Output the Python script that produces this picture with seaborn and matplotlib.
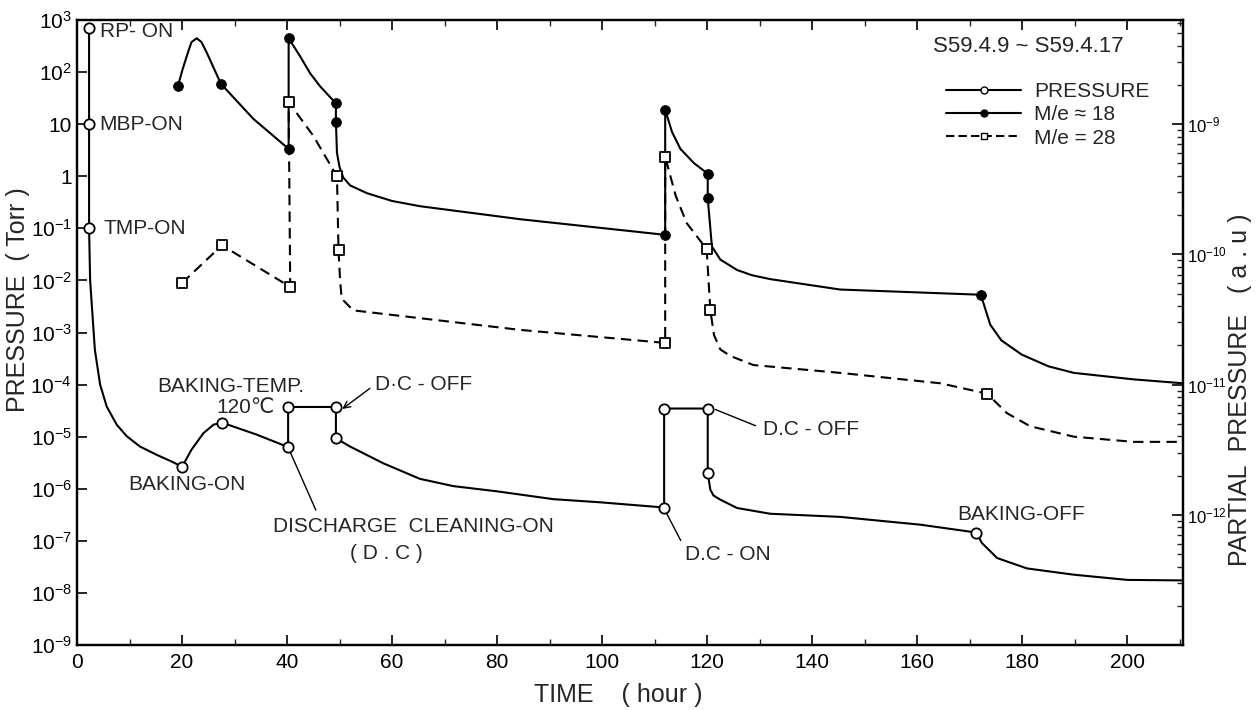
import numpy as np
import pandas as pd
import matplotlib
matplotlib.use("Agg")
import matplotlib.pyplot as plt
from matplotlib.lines import Line2D
from matplotlib import ticker
import seaborn as sns

# ---- total pressure (Torr), left axis ----
p_time = [2.3, 2.3, 2.3, 2.5, 3.4, 4.4, 5.65, 7.56, 9.46, 12.0, 15.2, 18.3, 20.0,
          21.8, 24.1, 26.0, 27.6, 34.2, 40.2, 40.2, 49.3, 49.3, 52.0, 58.3, 65.3,
          71.7, 80.0, 90.7, 99.6, 111.8, 111.8, 120.1, 120.1, 120.6, 121.2, 122.5, 125.7,
          132.0, 145.3, 160.6, 171.2, 172.3, 175.2, 180.9, 189.8, 200.0, 210.6]
p_log = [2.85, 1.0, -1.0, -2.0, -3.33, -4.0, -4.42, -4.77, -4.99, -5.19, -5.35, -5.49, -5.58,
         -5.25, -4.93, -4.77, -4.73, -4.96, -5.2, -4.43, -4.43, -5.03, -5.19, -5.51, -5.81,
         -5.95, -6.05, -6.2, -6.26, -6.36, -4.46, -4.46, -5.70, -6.02, -6.13, -6.21, -6.37,
         -6.48, -6.54, -6.69, -6.84, -7.04, -7.33, -7.53, -7.65, -7.75, -7.76]
p_mark = [1, 1, 1, 0, 0, 0, 0, 0, 0, 0, 0, 0, 1,
          0, 0, 0, 1, 0, 1, 1, 1, 1, 0, 0, 0,
          0, 0, 0, 0, 1, 1, 1, 1, 0, 0, 0, 0,
          0, 0, 0, 1, 0, 0, 0, 0, 0, 0]

# ---- M/e = 18 partial pressure (a.u), right axis ----
m18_time = [19.2, 20.1, 21.2, 21.8, 22.8, 23.7, 24.7, 27.4, 33.6, 40.3, 40.3, 42.5, 44.4, 46.3,
            49.3, 49.3, 49.5, 50.0, 50.7, 52.0, 55.2, 60.0, 65.3, 84.4, 112.0, 112.0,
            113.3, 114.9, 117.5, 120.1, 120.1, 120.9, 122.5, 125.7, 128.5, 132.0, 145.3,
            172.1, 173.9, 176.0, 179.9, 185.0, 189.8, 201.2, 210.6]
m18_log = [-8.71, -8.58, -8.44, -8.37, -8.34, -8.37, -8.45, -8.69, -8.96, -9.19, -8.34, -8.48,
           -8.61, -8.71, -8.84, -8.98, -9.22, -9.33, -9.41, -9.47, -9.53, -9.59, -9.63, -9.73,
           -9.85, -8.89, -9.06, -9.19, -9.30, -9.38, -9.57, -9.94, -10.04, -10.12, -10.16,
           -10.19, -10.27, -10.31, -10.54, -10.66, -10.77, -10.86, -10.91, -10.96, -10.99]
m18_mark = [1, 0, 0, 0, 0, 0, 0, 1, 0, 1, 1, 0, 0, 0,
            1, 1, 0, 0, 0, 0, 0, 0, 0, 0, 1, 1,
            0, 0, 0, 1, 1, 0, 0, 0, 0, 0, 0,
            1, 0, 0, 0, 0, 0, 0, 0]

# ---- M/e = 28 partial pressure (a.u), right axis ----
m28_time = [20.0, 27.6, 40.6, 40.3, 45.0, 49.5, 49.8, 50.1, 50.4, 52.6, 65.3, 84.4, 112.0,
            112.0, 114.0, 116.1, 119.9, 120.6, 121.3, 122.5, 124.4, 128.8, 145.3, 164.4,
            173.3, 177.1, 181.5, 189.8, 201.2, 210.6]
m28_log = [-10.22, -9.93, -10.25, -8.83, -9.09, -9.40, -9.97, -10.2, -10.34, -10.43, -10.49,
           -10.58, -10.68, -9.25, -9.55, -9.76, -9.96, -10.43, -10.62, -10.73, -10.78, -10.85,
           -10.91, -10.99, -11.07, -11.22, -11.32, -11.40, -11.44, -11.44]
m28_mark = [1, 1, 1, 1, 0, 1, 1, 0, 0, 0, 0, 0, 1,
            1, 0, 0, 1, 1, 0, 0, 0, 0, 0, 0,
            1, 0, 0, 0, 0, 0]

left_ticks = [1e-9, 1e-8, 1e-7, 1e-6, 1e-5, 1e-4, 1e-3, 1e-2, 1e-1, 1, 10, 1e2, 1e3]
left_labels = [r"$10^{-9}$", r"$10^{-8}$", r"$10^{-7}$", r"$10^{-6}$", r"$10^{-5}$",
               r"$10^{-4}$", r"$10^{-3}$", r"$10^{-2}$", r"$10^{-1}$", "1", "10",
               r"$10^{2}$", r"$10^{3}$"]
right_ticks = [1e-12, 1e-11, 1e-10, 1e-9]
right_labels = [r"$10^{-12}$", r"$10^{-11}$", r"$10^{-10}$", r"$10^{-9}$"]

sns.set_theme(style="ticks")
plt.rcParams["font.family"] = ["Liberation Sans", "DejaVu Sans"]
plt.rcParams["mathtext.fontset"] = "custom"
plt.rcParams["mathtext.rm"] = "Liberation Sans"
plt.rcParams["mathtext.it"] = "Liberation Sans"
plt.rcParams["mathtext.default"] = "regular"

def frame(t, lg, mk):
    df = pd.DataFrame({"t": t, "v": np.power(10.0, lg), "m": mk})
    return df, df[df["m"] == 1]

p_df, p_pts = frame(p_time, p_log, p_mark)
a_df, a_pts = frame(m18_time, m18_log, m18_mark)
b_df, b_pts = frame(m28_time, m28_log, m28_mark)

fig = plt.figure(figsize=(12.57, 7.10), dpi=100)
ax = fig.add_axes([77 / 1257, 65 / 710, 1106 / 1257, 625 / 710])
ax.set_yscale("log")
ax2 = ax.twinx()
ax2.set_yscale("log")

lw = 1.5
sns.lineplot(data=p_df, x="t", y="v", sort=False, estimator=None, color="black",
             lw=lw, ax=ax)
sns.scatterplot(data=p_pts, x="t", y="v", marker="o", s=55, facecolor="white",
                edgecolor="black", linewidth=1.3, zorder=5, ax=ax)

sns.lineplot(data=a_df, x="t", y="v", sort=False, estimator=None, color="black",
             lw=lw, ax=ax2)
sns.scatterplot(data=a_pts, x="t", y="v", marker="o", s=50, color="black",
                edgecolor="black", zorder=5, ax=ax2)

sns.lineplot(data=b_df, x="t", y="v", sort=False, estimator=None, color="black",
             lw=lw, ls=(0, (5, 3)), ax=ax2)
sns.scatterplot(data=b_pts, x="t", y="v", marker="s", s=60, facecolor="white",
                edgecolor="black", linewidth=1.3, zorder=5, ax=ax2)

ax.set_xlim(0, 210.6)
ax.set_ylim(1e-9, 1e3)
ax2.set_ylim(1e-13, 10 ** (-13 + 12 / 2.5))

ax.yaxis.set_major_locator(ticker.FixedLocator(left_ticks))
ax.yaxis.set_major_formatter(ticker.FixedFormatter(left_labels))
ax.yaxis.set_minor_locator(ticker.NullLocator())
ax.xaxis.set_major_locator(ticker.MultipleLocator(20))
ax.xaxis.set_minor_locator(ticker.MultipleLocator(10))
ax2.yaxis.set_major_locator(ticker.FixedLocator(right_ticks))
ax2.yaxis.set_major_formatter(ticker.FixedFormatter(right_labels))
ax2.yaxis.set_minor_locator(ticker.LogLocator(base=10, subs=np.arange(2, 10), numticks=20))
ax2.yaxis.set_minor_formatter(ticker.NullFormatter())

ax.tick_params(axis="both", which="major", direction="in", length=7, width=1.2,
               labelsize=15, colors="black", top=True)
ax.tick_params(axis="x", which="minor", direction="in", length=4, width=1.0, top=True)
ax.tick_params(axis="x", which="major", pad=6)
ax2.tick_params(axis="y", which="major", direction="in", length=8, width=1.2,
                labelsize=12, colors="black", pad=3)
ax2.tick_params(axis="y", which="minor", direction="in", length=4, width=1.0)
for a in (ax, ax2):
    for s in a.spines.values():
        s.set_visible(True)
        s.set_linewidth(1.6)
        s.set_color("black")

ax.set_xlabel("")
ax.set_ylabel("")
ax2.set_ylabel("")
fig.text(618 / 1257, 1 - 695 / 710, "TIME    ( hour )", ha="center", va="center", fontsize=18)
fig.text(18 / 1257, 1 - 300 / 710, "PRESSURE  ( Torr )", ha="center", va="center",
         rotation=90, fontsize=18)
fig.text(1240 / 1257, 1 - 390 / 710, "PARTIAL  PRESSURE   ( a . u )", ha="center",
         va="center", rotation=90, fontsize=18)

fs = 15
def L(v):
    return 10 ** v

ax.text(4.4, L(2.77), "RP- ON", fontsize=fs, va="center")
ax.text(4.2, L(1.0), "MBP-ON", fontsize=fs, va="center")
ax.text(5.0, L(-1.0), "TMP-ON", fontsize=fs, va="center")
ax.text(15.2, L(-4.04), "BAKING-TEMP.", fontsize=fs, va="center")
ax.text(37.7, L(-4.44), "120℃", fontsize=fs, va="center", ha="right")
ax.text(9.7, L(-5.92), "BAKING-ON", fontsize=fs, va="center")
ax.text(37.3, L(-6.73), "DISCHARGE  CLEANING-ON", fontsize=fs, va="center")
ax.text(59.0, L(-7.25), "( D . C )", fontsize=fs, va="center", ha="center")
ax.text(56.8, L(-4.0), "D·C - OFF", fontsize=fs, va="center")
ax.text(130.7, L(-4.87), "D.C - OFF", fontsize=fs, va="center")
ax.text(115.8, L(-7.27), "D.C - ON", fontsize=fs, va="center")
ax.text(167.6, L(-6.5), "BAKING-OFF", fontsize=fs, va="center")
ax.text(181.1, L(2.5), "S59.4.9 ~ S59.4.17", fontsize=16, va="center", ha="center")

lead = dict(arrowstyle="-", color="black", lw=1.0)
ax.annotate("", xy=(40.4, L(-5.25)), xytext=(45.7, L(-6.46)), arrowprops=lead)
ax.annotate("", xy=(50.1, L(-4.5)), xytext=(56.2, L(-4.04)),
            arrowprops=dict(arrowstyle="->", color="black", lw=1.0))
ax.annotate("", xy=(121.1, L(-4.46)), xytext=(129.7, L(-4.81)), arrowprops=lead)
ax.annotate("", xy=(112.0, L(-6.42)), xytext=(115.2, L(-7.04)), arrowprops=lead)

handles = [
    Line2D([], [], color="black", lw=lw, marker="o", ms=5, mfc="white", mec="black"),
    Line2D([], [], color="black", lw=lw, marker="o", ms=5, mfc="black", mec="black"),
    Line2D([], [], color="black", lw=lw, ls=(0, (4, 2)), marker="s", ms=5, mfc="white",
           mec="black"),
]
ax.legend(handles, ["PRESSURE", "M/e ≈ 18", "M/e = 28"], loc="upper left",
          bbox_to_anchor=((938 - 77) / 1106, 1 - 54 / 625), frameon=False, fontsize=15,
          handlelength=3.6, handletextpad=0.6, labelspacing=0.2, borderaxespad=0)

fig.savefig("out.png", dpi=100, facecolor="white")
